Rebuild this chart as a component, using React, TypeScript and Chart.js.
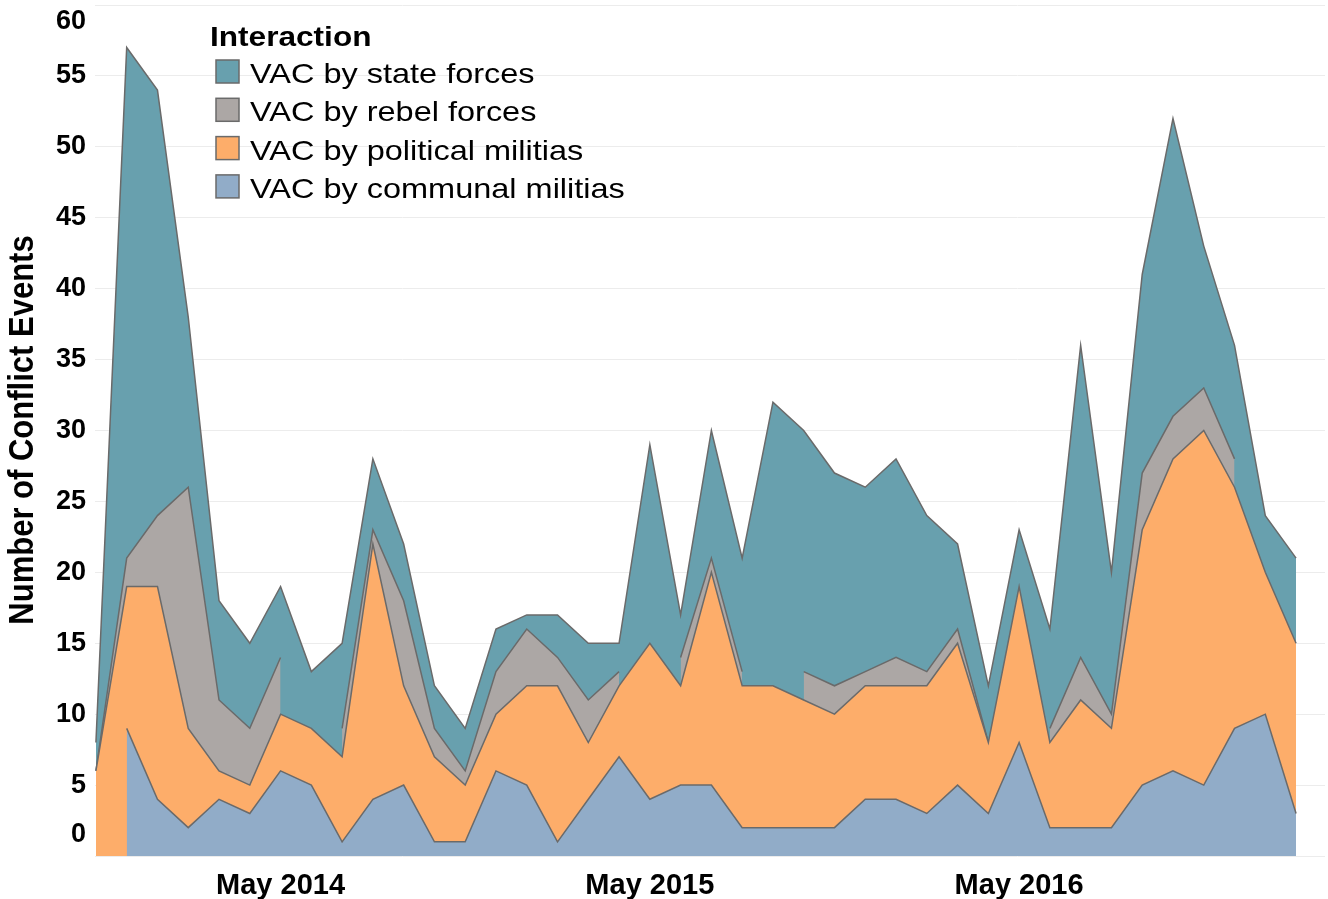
import React, { useEffect, useRef } from "react";
import { Chart, registerables } from "chart.js";

Chart.register(...registerables);

// Monthly categories (Nov 2013 – Feb 2017)
const months = [
  "Nov 2013", "Dec 2013", "Jan 2014", "Feb 2014", "Mar 2014", "Apr 2014", "May 2014", "Jun 2014",
  "Jul 2014", "Aug 2014", "Sep 2014", "Oct 2014", "Nov 2014", "Dec 2014", "Jan 2015", "Feb 2015",
  "Mar 2015", "Apr 2015", "May 2015", "Jun 2015", "Jul 2015", "Aug 2015", "Sep 2015", "Oct 2015",
  "Nov 2015", "Dec 2015", "Jan 2016", "Feb 2016", "Mar 2016", "Apr 2016", "May 2016", "Jun 2016",
  "Jul 2016", "Aug 2016", "Sep 2016", "Oct 2016", "Nov 2016", "Dec 2016", "Jan 2017", "Feb 2017",
];

// Series values (number of conflict events)
const communal = [null, 9, 4, 2, 4, 3, 6, 5, 1, 4, 5, 1, 1, 6, 5, 1, 4, 7, 4, 5, 5, 2, 2, 2, 2, 4, 4, 3, 5, 3, 8, 2, 2, 2, 5, 6, 5, 9, 10, 3];
const political = [6, 10, 15, 7, 2, 2, 4, 4, 6, 18, 7, 6, 4, 4, 7, 11, 4, 5, 11, 7, 15, 10, 10, 9, 8, 8, 8, 9, 10, 5, 11, 6, 9, 7, 18, 22, 25, 17, 10, 12];
const rebel = [0, 2, 5, 17, 5, 4, 4, null, 2, 1, 6, 2, 1, 3, 4, 2, 3, 1, null, 2, 1, 1, null, 2, 2, 1, 2, 1, 1, 0, null, 1, 3, 1, 4, 3, 3, 2, null, null];
const stateForces = [2, 36, 30, 12, 7, 6, 5, 4, 6, 5, 4, 3, 3, 3, 1, 3, 4, 2, 14, 3, 9, 8, 20, 17, 15, 13, 14, 11, 6, 4, 4, 7, 22, 10, 14, 21, 10, 8, 4, 6];

// Axis tick labels
const xTickLabels = ["May 2014", "May 2015", "May 2016"];
const yTickValues = [0, 5, 10, 15, 20, 25, 30, 35, 40, 45, 50, 55, 60];

const seriesNames = [
  "VAC by state forces",
  "VAC by rebel forces",
  "VAC by political militias",
  "VAC by communal militias",
];
const legendTitle = "Interaction";
const yTitle = "Number of Conflict Events";

const COLORS = {
  state: "#68a0ae",
  rebel: "#aca7a5",
  political: "#fdad6a",
  communal: "#91acc8",
};
const LINE = "#6a6a6a";
const FONT = "'Liberation Sans', Arial, Helvetica, sans-serif";

const toPoints = (arr: (number | null)[]) => arr.map((v, i) => ({ x: i, y: v }));

const overlayPlugin = {
  id: "overlay",
  afterDraw(chart: any) {
    const { ctx, chartArea, scales } = chart;
    const y = scales.y;
    ctx.save();
    // Y tick labels (kept inside the plot area like the original)
    ctx.fillStyle = "#000";
    ctx.font = `bold 27px ${FONT}`;
    ctx.textAlign = "right";
    ctx.textBaseline = "middle";
    yTickValues.forEach((v) => {
      let py = y.getPixelForValue(v);
      py = Math.min(Math.max(py, chartArea.top + 17), chartArea.bottom - 21);
      ctx.fillText(String(v), 86, py);
    });
    // Y axis title
    ctx.save();
    ctx.translate(23, 430);
    ctx.scale(1.12, 1);
    ctx.rotate(-Math.PI / 2);
    ctx.font = `bold 31px ${FONT}`;
    ctx.textAlign = "center";
    ctx.textBaseline = "middle";
    ctx.fillText(yTitle, 0, 0);
    ctx.restore();

    // Legend
    ctx.save();
    ctx.translate(210, 46);
    ctx.scale(1.17, 1);
    ctx.font = `bold 27px ${FONT}`;
    ctx.textAlign = "left";
    ctx.textBaseline = "alphabetic";
    ctx.fillStyle = "#000";
    ctx.fillText(legendTitle, 0, 0);
    ctx.restore();

    const cols = [COLORS.state, COLORS.rebel, COLORS.political, COLORS.communal];
    seriesNames.forEach((name, i) => {
      const top = 60 + 38.3 * i;
      ctx.fillStyle = cols[i];
      ctx.fillRect(216, top, 23, 23);
      ctx.strokeStyle = LINE;
      ctx.lineWidth = 1.5;
      ctx.strokeRect(216, top, 23, 23);
      ctx.save();
      ctx.translate(250, top + 23);
      ctx.scale(1.16, 1);
      ctx.font = `28px ${FONT}`;
      ctx.fillStyle = "#000";
      ctx.textAlign = "left";
      ctx.textBaseline = "alphabetic";
      ctx.fillText(name, 0, 0);
      ctx.restore();
    });
    ctx.restore();
  },
};

export default function App() {
  const canvasRef = useRef<HTMLCanvasElement | null>(null);

  useEffect(() => {
    document.body.style.margin = "0";
    const canvas = canvasRef.current;
    if (!canvas) return;

    const ds = (label: string, data: (number | null)[], color: string) => ({
      label,
      data: toPoints(data),
      backgroundColor: color,
      borderColor: LINE,
      borderWidth: 1.5,
      fill: "origin",
      tension: 0,
      pointRadius: 0,
      pointHoverRadius: 0,
      spanGaps: false,
    });

    const chart = new Chart(canvas, {
      type: "line",
      data: {
        datasets: [
          ds(seriesNames[3], communal, COLORS.communal),
          ds(seriesNames[2], political, COLORS.political),
          ds(seriesNames[1], rebel, COLORS.rebel),
          ds(seriesNames[0], stateForces, COLORS.state),
        ],
      },
      options: {
        responsive: false,
        animation: false,
        layout: { padding: { left: 0, right: 3, top: 5, bottom: 0 } },
        plugins: {
          legend: { display: false },
          tooltip: { enabled: false },
          filler: { drawTime: "beforeDatasetDraw" },
        },
        scales: {
          x: {
            type: "linear",
            min: -0.03,
            max: 39.94,
            grid: { display: false },
            border: { display: false },
            afterBuildTicks: (s: any) => {
              s.ticks = xTickLabels.map((l) => ({ value: months.indexOf(l) }));
            },
            afterFit: (s: any) => {
              s.height = 43;
            },
            ticks: {
              autoSkip: false,
              maxRotation: 0,
              padding: 5,
              color: "#000",
              font: { family: FONT, size: 29, weight: "bold" },
              callback: (v: any) => months[v as number],
            },
          },
          y: {
            stacked: true,
            min: 0,
            max: 60,
            afterFit: (s: any) => {
              s.width = 95;
            },
            afterBuildTicks: (s: any) => {
              s.ticks = yTickValues.map((v) => ({ value: v }));
            },
            grid: { color: "#ececec", lineWidth: 1, drawTicks: false },
            border: { display: false },
            ticks: { display: false },
          },
        },
      },
      plugins: [overlayPlugin],
    } as any);

    return () => chart.destroy();
  }, []);

  return (
    <div style={{ width: 1328, height: 899 }}>
      <canvas ref={canvasRef} width={1328} height={899} style={{ display: "block" }} />
    </div>
  );
}
